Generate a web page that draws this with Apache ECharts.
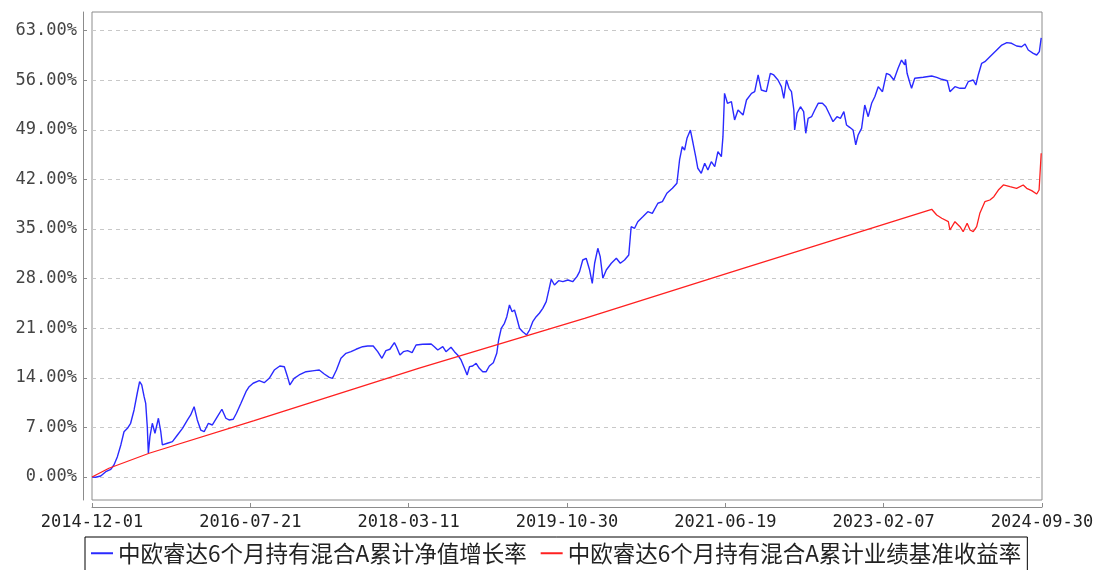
<!DOCTYPE html>
<html>
<head>
<meta charset="utf-8">
<title>中欧睿达6个月持有混合A</title>
<script src="https://cdn.jsdelivr.net/npm/echarts@6/dist/echarts.min.js"></script>
<style>
  html, body { margin: 0; padding: 0; background: #fff; }
  #chart { width: 1100px; height: 570px; }
</style>
</head>
<body>
<div id="chart"></div>
<script>
// x = calendar days since 2014-12-01 (2024-09-30 is day 3591)
const xTickLabels = ['2014-12-01', '2016-07-21', '2018-03-11', '2019-10-30', '2021-06-19', '2023-02-07', '2024-09-30'];
const yTickValues = [0, 7, 14, 21, 28, 35, 42, 49, 56, 63];
const seriesNames = ['中欧睿达6个月持有混合A累计净值增长率', '中欧睿达6个月持有混合A累计业绩基准收益率'];

// 累计净值增长率 (%)
const navDays = [
  0, 14, 33, 52, 71, 83, 96, 109, 121, 134,
  146, 159, 171, 180, 188, 197, 203, 209, 213, 219,
  228, 238, 251, 260, 266, 285, 304, 323, 342, 361,
  373, 386, 398, 411, 424, 440, 455, 474, 491, 506,
  518, 534, 546, 563, 582, 594, 609, 613, 632, 651,
  670, 689, 710, 727, 739, 748, 764, 783, 809, 840,
  859, 878, 897, 909, 924, 941, 960, 979, 998, 1023,
  1042, 1063, 1080, 1096, 1111, 1126, 1143, 1151, 1164, 1177,
  1193, 1210, 1225, 1250, 1282, 1294, 1307, 1326, 1338, 1357,
  1370, 1382, 1395, 1408, 1418, 1427, 1439, 1452, 1464, 1477,
  1490, 1502, 1517, 1530, 1537, 1547, 1559, 1568, 1578, 1588,
  1597, 1606, 1616, 1628, 1643, 1654, 1666, 1679, 1691, 1704,
  1717, 1727, 1736, 1748, 1764, 1780, 1799, 1817, 1833, 1843,
  1855, 1868, 1881, 1891, 1900, 1912, 1921, 1931, 1944, 1963,
  1982, 1997, 2013, 2029, 2038, 2051, 2063, 2082, 2101, 2118,
  2139, 2156, 2173, 2194, 2211, 2221, 2231, 2240, 2249, 2262,
  2272, 2282, 2290, 2303, 2316, 2328, 2341, 2354, 2366, 2379,
  2385, 2391, 2402, 2417, 2429, 2442, 2448, 2461, 2474, 2493,
  2505, 2518, 2530, 2549, 2564, 2577, 2593, 2606, 2615, 2625,
  2635, 2644, 2653, 2656, 2665, 2678, 2690, 2698, 2707, 2720,
  2732, 2745, 2761, 2774, 2789, 2801, 2816, 2829, 2842, 2852,
  2864, 2877, 2887, 2896, 2909, 2921, 2934, 2947, 2959, 2972,
  2988, 3003, 3016, 3031, 3047, 3060, 3072, 3075, 3081, 3092,
  3098, 3110, 3142, 3174, 3193, 3212, 3233, 3243, 3262, 3281,
  3300, 3312, 3331, 3341, 3350, 3363, 3375, 3394, 3420, 3439,
  3458, 3476, 3495, 3514, 3527, 3539, 3558, 3571, 3581, 3588
];
const navValues = [
  0, -0.04, 0.14, 0.75, 1.09, 1.69, 2.87, 4.52, 6.39, 6.87,
  7.58, 9.46, 11.82, 13.45, 12.99, 11.34, 10.40, 7.10, 3.35, 5.69,
  7.58, 6.17, 8.29, 6.39, 4.52, 4.76, 4.98, 5.93, 6.87, 8.05,
  8.75, 9.92, 8.05, 6.63, 6.39, 7.58, 7.34, 8.51, 9.56, 8.29,
  8.05, 8.15, 8.99, 10.40, 12.04, 12.75, 13.23, 13.45, 13.59, 13.31,
  13.93, 15.10, 15.67, 15.57, 14.16, 12.99, 13.93, 14.40, 14.86, 15.01,
  15.10, 14.54, 14.07, 13.93, 15.10, 16.76, 17.46, 17.69, 18.03, 18.39,
  18.49, 18.49, 17.69, 16.76, 17.83, 18.03, 18.96, 18.39, 17.22, 17.69,
  17.83, 17.55, 18.63, 18.73, 18.77, 18.39, 17.93, 18.39, 17.69, 18.31,
  17.69, 17.22, 16.52, 15.34, 14.40, 15.57, 15.67, 16.05, 15.34, 14.86,
  14.86, 15.67, 16.13, 17.46, 19.34, 20.99, 21.70, 22.63, 24.28, 23.33,
  23.57, 22.40, 20.99, 20.51, 20.05, 20.75, 21.92, 22.63, 23.11, 23.81,
  24.75, 26.40, 27.91, 27.10, 27.71, 27.57, 27.81, 27.57, 28.28, 28.98,
  30.63, 30.87, 29.22, 27.34, 30.17, 32.28, 31.10, 28.05, 29.22, 30.17,
  30.87, 30.17, 30.63, 31.34, 35.33, 35.11, 36.04, 36.74, 37.45, 37.22,
  38.64, 38.86, 40.05, 40.75, 41.46, 44.75, 46.63, 46.16, 47.81, 48.98,
  47.11, 45.21, 43.58, 42.87, 44.28, 43.34, 44.51, 43.80, 45.92, 45.21,
  48.04, 54.16, 52.75, 52.98, 50.40, 51.81, 51.57, 51.10, 53.22, 54.16,
  54.39, 56.75, 54.63, 54.39, 56.99, 56.75, 56.04, 55.10, 53.46, 56.04,
  54.87, 54.39, 51.81, 48.98, 51.34, 52.27, 51.57, 48.52, 50.63, 50.86,
  51.81, 52.75, 52.75, 52.27, 51.10, 50.16, 50.86, 50.63, 51.57, 49.69,
  49.36, 48.98, 46.87, 48.28, 49.22, 52.51, 50.86, 52.75, 53.68, 55.10,
  54.39, 56.99, 56.75, 56.04, 57.69, 58.86, 58.16, 58.96, 56.99, 55.58,
  54.87, 56.28, 56.42, 56.61, 56.42, 56.14, 55.94, 54.39, 55.10, 54.87,
  54.87, 55.80, 56.04, 55.34, 56.75, 58.40, 58.63, 59.33, 60.28, 60.98,
  61.31, 61.22, 60.84, 60.74, 61.12, 60.28, 59.81, 59.57, 60.04, 62.00
];

// 累计业绩基准收益率 (%)
const benchDays = [
  0, 64, 216, 613, 1237, 1862, 2410, 3174, 3193, 3212,
  3237, 3243, 3262, 3281, 3293, 3308, 3319, 3331, 3344, 3356,
  3375, 3394, 3409, 3426, 3445, 3470, 3495, 3520, 3533, 3552,
  3571, 3580, 3588
];
const benchValues = [
  0, 1.23, 3.35, 7.95, 15.35, 22.40, 28.84, 37.79, 36.98, 36.52,
  36.04, 34.87, 36.04, 35.33, 34.63, 35.81, 34.87, 34.63, 35.33, 37.22,
  38.86, 39.10, 39.57, 40.51, 41.22, 40.98, 40.75, 41.22, 40.75, 40.42,
  39.95, 40.51, 45.70
];

const TOTAL_DAYS = 3591;
const X_STEP = TOTAL_DAYS / 6;

const zip = (xs, ys) => xs.map((x, i) => [x, ys[i]]);

const buildOption = () => {
  return {
    animation: false,
    backgroundColor: '#fff',
    grid: {
      left: 92,
      right: 58,
      top: 12,
      bottom: 70,
      show: true,
      borderColor: '#8c8c8c',
      borderWidth: 1
    },
    legend: {
      left: 85,
      top: 537,
      data: seriesNames,
      icon: 'rect',
      itemWidth: 22,
      itemHeight: 2,
      itemGap: 14,
      padding: [5, 6, 10, 6],
      borderColor: '#000',
      borderWidth: 1,
      textStyle: {
        fontFamily: 'Noto Sans CJK SC',
        fontSize: 22.5,
        color: '#222'
      }
    },
    xAxis: {
      type: 'value',
      min: 0,
      max: TOTAL_DAYS,
      interval: X_STEP,
      offset: 7,
      axisLine: { show: true, onZero: false, lineStyle: { color: '#8c8c8c' } },
      axisTick: { show: true, inside: true, length: 4, lineStyle: { color: '#8c8c8c' } },
      splitLine: { show: false },
      axisLabel: {
        showMinLabel: true,
        showMaxLabel: true,
        margin: 7,
        fontFamily: 'DejaVu Sans Mono',
        fontSize: 17,
        color: '#222',
        formatter: (v) => xTickLabels[Math.round(v / X_STEP)]
      }
    },
    yAxis: {
      type: 'value',
      min: -3.25,
      max: 65.64,
      offset: 9,
      axisLine: { show: true, onZero: false, lineStyle: { color: '#8c8c8c' } },
      axisTick: {
        show: true,
        inside: true,
        length: 4,
        customValues: yTickValues,
        lineStyle: { color: '#8c8c8c' }
      },
      splitLine: {
        show: true,
        lineStyle: { type: [4, 4], color: '#c8c8c8' }
      },
      axisLabel: {
        customValues: yTickValues,
        margin: 6,
        fontFamily: 'DejaVu Sans Mono',
        fontSize: 17,
        color: '#444',
        formatter: (v) => v.toFixed(2) + '%'
      }
    },
    series: [
      {
        name: seriesNames[0],
        type: 'line',
        data: zip(navDays, navValues),
        symbol: 'none',
        lineStyle: { width: 1.4, color: '#2a2aff' },
        itemStyle: { color: '#2a2aff' }
      },
      {
        name: seriesNames[1],
        type: 'line',
        data: zip(benchDays, benchValues),
        symbol: 'none',
        lineStyle: { width: 1.3, color: '#ff2020' },
        itemStyle: { color: '#ff2020' }
      }
    ]
  };
};

const myChart = echarts.init(document.getElementById('chart'));
myChart.setOption(buildOption());
</script>
</body>
</html>
